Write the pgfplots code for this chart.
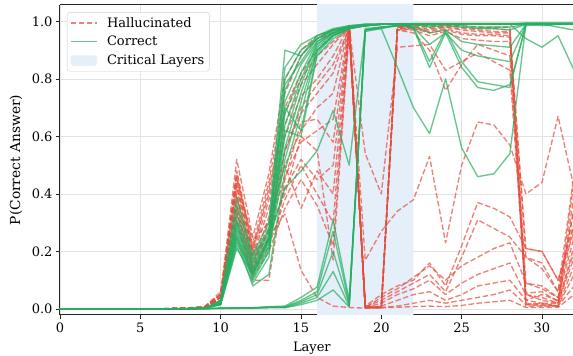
\documentclass[border=0pt]{standalone}
\usepackage{pgfplots}
\pgfplotsset{compat=1.18}
\usepackage{pgfplotstable}
\usepackage{fontspec}
\setmainfont{DejaVu Serif}

\definecolor{hred}{HTML}{E74C3C}
\definecolor{cgreen}{HTML}{27AE60}
\definecolor{critblue}{RGB}{228,239,250}

% one row per hallucinated sample (first row = layer index)
\pgfplotstableread[header=false]{
0 1 2 3 4 5 6 7 8 9 10 11 12 13 14 15 16 17 18 19 20 21 22 23 24 25 26 27 28 29 30 31 32
0 0 0 0 0 0 0 0.002 0.004 0.008 0.05 0.52 0.25 0.47 0.80 0.90 0.95 0.97 0.98 0.004 0.004 0.98 0.985 0.98 0.985 0.98 0.975 0.975 0.97 0.01 0.01 0.01 0.40
0 0 0 0 0 0 0 0.001 0.003 0.006 0.04 0.48 0.22 0.44 0.75 0.88 0.94 0.96 0.98 0.006 0.005 0.975 0.98 0.97 0.98 0.97 0.965 0.96 0.96 0.015 0.02 0.02 0.45
0 0 0 0 0 0 0 0.001 0.002 0.005 0.05 0.46 0.21 0.40 0.70 0.82 0.90 0.95 0.985 0.005 0.006 0.97 0.975 0.96 0.97 0.955 0.95 0.95 0.945 0.03 0.05 0.03 0.30
0 0 0 0 0 0 0 0 0.002 0.004 0.04 0.44 0.19 0.38 0.64 0.78 0.85 0.92 0.98 0.008 0.004 0.97 0.97 0.95 0.965 0.94 0.935 0.93 0.93 0.055 0.06 0.025 0.20
0 0 0 0 0 0 0 0.002 0.003 0.007 0.06 0.42 0.18 0.35 0.60 0.74 0.80 0.88 0.985 0.004 0.007 0.98 0.98 0.975 0.98 0.975 0.97 0.965 0.965 0.09 0.08 0.04 0.35
0 0 0 0 0 0 0 0.001 0.002 0.005 0.04 0.40 0.16 0.32 0.55 0.68 0.75 0.82 0.98 0.006 0.005 0.975 0.975 0.965 0.975 0.96 0.955 0.955 0.95 0.21 0.20 0.10 0.27
0 0 0 0 0 0 0 0 0.001 0.004 0.03 0.38 0.15 0.30 0.50 0.62 0.70 0.75 0.985 0.005 0.004 0.98 0.985 0.985 0.985 0.985 0.98 0.98 0.98 0.18 0.14 0.06 0.47
0 0 0 0 0 0 0 0.001 0.003 0.006 0.05 0.47 0.20 0.42 0.68 0.80 0.88 0.93 0.975 0.01 0.008 0.97 0.96 0.90 0.76 0.85 0.92 0.90 0.88 0.02 0.015 0.012 0.15
0 0 0 0 0 0 0 0.001 0.002 0.005 0.04 0.36 0.14 0.28 0.46 0.58 0.62 0.66 0.98 0.54 0.40 0.91 0.915 0.92 0.83 0.86 0.89 0.86 0.83 0.05 0.03 0.02 0.22
0 0 0 0 0 0 0 0.002 0.004 0.008 0.05 0.34 0.13 0.25 0.42 0.52 0.45 0.50 0.98 0.17 0.27 0.34 0.38 0.53 0.23 0.50 0.65 0.64 0.57 0.40 0.44 0.67 0.42
0 0 0 0 0 0 0 0.001 0.002 0.006 0.04 0.33 0.12 0.22 0.38 0.50 0.40 0.30 0.98 0.01 0.05 0.08 0.10 0.16 0.08 0.22 0.37 0.35 0.32 0.21 0.20 0.10 0.30
0 0 0 0 0 0 0 0 0.002 0.004 0.03 0.31 0.11 0.20 0.35 0.45 0.36 0.22 0.975 0.008 0.03 0.06 0.09 0.12 0.06 0.18 0.31 0.28 0.25 0.18 0.16 0.06 0.35
0 0 0 0 0 0 0 0.002 0.003 0.007 0.05 0.45 0.24 0.30 0.50 0.35 0.48 0.40 0.98 0.005 0.04 0.07 0.11 0.15 0.10 0.15 0.18 0.21 0.23 0.09 0.07 0.04 0.25
0 0 0 0 0 0 0 0.001 0.002 0.005 0.04 0.39 0.17 0.27 0.40 0.60 0.55 0.17 0.97 0.006 0.02 0.05 0.07 0.10 0.05 0.09 0.12 0.14 0.16 0.05 0.04 0.02 0.18
0 0 0 0 0 0 0 0 0.001 0.004 0.03 0.30 0.10 0.10 0.45 0.65 0.66 0.58 0.98 0.004 0.01 0.03 0.05 0.06 0.03 0.05 0.08 0.09 0.10 0.03 0.02 0.01 0.12
0 0 0 0 0 0 0 0.001 0.003 0.006 0.05 0.43 0.20 0.24 0.55 0.70 0.78 0.85 0.975 0.003 0.005 0.01 0.02 0.03 0.02 0.03 0.04 0.05 0.066 0.015 0.012 0.01 0.08
0 0 0 0 0 0 0 0.001 0.002 0.005 0.04 0.35 0.14 0.25 0.33 0.135 0.04 0.01 0.005 0.003 0.004 0.006 0.008 0.01 0.008 0.012 0.02 0.025 0.03 0.005 0.005 0.005 0.05
}\halraw
\pgfplotstabletranspose\haltab{\halraw}

% one row per correct sample (first row = layer index)
\pgfplotstableread[header=false]{
0 1 2 3 4 5 6 7 8 9 10 11 12 13 14 15 16 17 18 19 20 21 22 23 24 25 26 27 28 29 30 31 32
0 0 0 0 0 0 0 0 0.001 0.003 0.03 0.39 0.19 0.30 0.90 0.88 0.95 0.97 0.98 0.99 0.99 0.992 0.993 0.993 0.993 0.993 0.993 0.993 0.993 0.993 0.993 0.993 0.993
0 0 0 0 0 0 0 0 0.001 0.003 0.03 0.36 0.18 0.28 0.84 0.92 0.95 0.975 0.985 0.99 0.99 0.99 0.985 0.96 0.97 0.93 0.92 0.915 0.91 0.99 0.99 0.99 0.99
0 0 0 0 0 0 0 0 0.001 0.003 0.025 0.33 0.17 0.27 0.80 0.90 0.94 0.97 0.98 0.985 0.99 0.99 0.98 0.92 0.96 0.90 0.88 0.87 0.86 0.99 0.99 0.99 0.99
0 0 0 0 0 0 0 0 0.001 0.003 0.025 0.31 0.16 0.26 0.76 0.88 0.94 0.97 0.985 0.99 0.99 0.99 0.98 0.86 0.97 0.86 0.79 0.78 0.77 0.99 0.99 0.99 0.99
0 0 0 0 0 0 0 0 0.001 0.003 0.02 0.30 0.15 0.25 0.72 0.85 0.93 0.965 0.98 0.985 0.99 0.99 0.975 0.84 0.96 0.84 0.77 0.76 0.78 0.985 0.99 0.99 0.99
0 0 0 0 0 0 0 0 0.001 0.003 0.02 0.29 0.14 0.24 0.68 0.82 0.93 0.96 0.98 0.985 0.99 0.99 0.99 0.99 0.99 0.99 0.99 0.99 0.99 0.94 0.91 0.95 0.83
0 0 0 0 0 0 0 0 0.001 0.003 0.02 0.28 0.13 0.23 0.64 0.80 0.92 0.96 0.98 0.985 0.99 0.99 0.99 0.985 0.99 0.985 0.98 0.98 0.98 0.99 0.99 0.99 0.99
0 0 0 0 0 0 0 0 0.001 0.003 0.02 0.27 0.12 0.22 0.60 0.78 0.92 0.96 0.98 0.985 0.99 0.99 0.99 0.99 0.99 0.99 0.99 0.99 0.99 0.995 0.995 0.995 0.995
0 0 0 0 0 0 0 0 0.001 0.003 0.018 0.26 0.11 0.21 0.56 0.75 0.91 0.955 0.975 0.985 0.99 0.99 0.99 0.98 0.985 0.98 0.975 0.975 0.97 0.99 0.985 0.99 0.99
0 0 0 0 0 0 0 0 0.001 0.003 0.018 0.25 0.10 0.20 0.52 0.72 0.90 0.95 0.975 0.985 0.99 0.99 0.99 0.99 0.99 0.99 0.99 0.99 0.99 0.99 0.99 0.98 0.97
0 0 0 0 0 0 0 0 0.001 0.003 0.015 0.24 0.08 0.12 0.48 0.68 0.90 0.95 0.975 0.985 0.99 0.99 0.99 0.99 0.99 0.99 0.99 0.99 0.99 0.99 0.99 0.99 0.99
0 0 0 0 0 0 0 0 0.001 0.003 0.015 0.22 0.09 0.18 0.70 0.62 0.89 0.95 0.975 0.985 0.99 0.99 0.99 0.99 0.99 0.99 0.99 0.99 0.99 0.99 0.99 0.99 0.99
0 0 0 0 0 0 0 0 0.001 0.003 0.015 0.21 0.12 0.25 0.78 0.86 0.94 0.97 0.98 0.99 0.99 0.99 0.99 0.99 0.99 0.99 0.99 0.99 0.99 0.99 0.99 0.99 0.99
0 0 0 0 0 0 0 0 0.001 0.003 0.02 0.23 0.13 0.24 0.62 0.60 0.88 0.94 0.975 0.985 0.99 0.99 0.99 0.99 0.99 0.99 0.99 0.99 0.99 0.99 0.99 0.99 0.99
0 0 0 0 0 0 0 0 0 0.001 0.003 0.004 0.004 0.008 0.01 0.04 0.076 0.31 0.03 0.97 0.98 0.985 0.99 0.99 0.99 0.99 0.99 0.99 0.99 0.99 0.99 0.99 0.99
0 0 0 0 0 0 0 0 0 0.001 0.003 0.004 0.004 0.007 0.008 0.03 0.06 0.27 0.02 0.97 0.98 0.985 0.99 0.99 0.99 0.99 0.99 0.99 0.99 0.99 0.99 0.99 0.99
0 0 0 0 0 0 0 0 0 0.001 0.002 0.003 0.003 0.006 0.006 0.025 0.05 0.20 0.015 0.965 0.975 0.985 0.99 0.99 0.99 0.99 0.99 0.99 0.99 0.99 0.99 0.99 0.99
0 0 0 0 0 0 0 0 0 0.001 0.002 0.003 0.003 0.005 0.005 0.02 0.04 0.13 0.01 0.97 0.98 0.985 0.99 0.99 0.99 0.99 0.99 0.99 0.99 0.99 0.99 0.99 0.99
0 0 0 0 0 0 0 0 0 0.001 0.002 0.002 0.003 0.004 0.004 0.015 0.03 0.066 0.007 0.975 0.98 0.985 0.99 0.99 0.99 0.99 0.99 0.99 0.99 0.99 0.99 0.99 0.99
0 0 0 0 0 0 0 0 0 0.001 0.02 0.25 0.12 0.24 0.42 0.48 0.55 0.69 0.50 0.97 0.975 0.84 0.70 0.61 0.80 0.56 0.46 0.47 0.54 0.99 0.99 0.99 0.99
}\corraw
\pgfplotstabletranspose\cortab{\corraw}

\pgfplotsset{
  hal/.style={color=hred, draw opacity=0.7, line width=1.35pt, dash pattern=on 5.5pt off 2.5pt, line join=round},
  cor/.style={color=cgreen, draw opacity=0.7, line width=1.35pt, line join=round},
}

\begin{document}
\begin{tikzpicture}
\begin{axis}[
  scale only axis, width=513pt, height=310pt,
  xmin=0, xmax=31.93, ymin=-0.021, ymax=1.057,
  xtick={0,5,10,15,20,25,30},
  ytick={0,0.2,0.4,0.6,0.8,1.0},
  /pgf/number format/assume math mode=true,
  yticklabel style={/pgf/number format/.cd, fixed, fixed zerofill, precision=1},
  grid=major, major grid style={black!11, line width=0.8pt},
  axis x line*=box, axis y line*=left,
  axis line style={-, black!85, line width=1pt},
  tick align=outside, major tick length=4pt, tick style={black!85, line width=0.8pt},
  xtick pos=left, ytick pos=left,
  tick label style={font=\fontsize{13}{15}\selectfont},
  xlabel style={font=\fontsize{13}{15}\selectfont},
  ylabel style={font=\fontsize{13.8}{16}\selectfont},
  xlabel={Layer}, ylabel={P(Correct Answer)},
  xlabel style={at={(axis description cs:0.491,0)}, anchor=center, yshift=-33pt},
  ylabel style={at={(axis description cs:-0.0858,0.5)}, anchor=center},
  legend cell align=left,
  legend style={at={(axis description cs:0.0136,0.977)}, anchor=north west,
    draw=black!20, rounded corners=2.5pt, fill=white,
    font=\fontsize{13}{15.5}\selectfont, inner xsep=3pt, inner ysep=3pt,
    row sep=3.5pt,
    /tikz/every odd column/.append style={column sep=7.5pt}},
  legend image code/.code={\draw[#1] (0pt,0pt) -- (26pt,0pt);},
]
\coordinate (bl) at (rel axis cs:0,0);
\coordinate (tr) at (rel axis cs:1,1);
\addplot[draw=none, fill=critblue, forget plot] coordinates {(16,-0.5) (22,-0.5) (22,1.5) (16,1.5) (16,-0.5)};
\pgfplotsinvokeforeach{2,...,18}{\addplot[hal, forget plot] table[x index=1, y index=#1] {\haltab};}
\pgfplotsinvokeforeach{2,...,21}{\addplot[cor, forget plot] table[x index=1, y index=#1] {\cortab};}
\addlegendimage{hal}
\addlegendentry{Hallucinated}
\addlegendimage{cor}
\addlegendentry{Correct}
\addlegendimage{legend image code/.code={\fill[critblue] (0pt,-5pt) rectangle (26pt,5pt);}}
\addlegendentry{Critical Layers}
\end{axis}
\pgfresetboundingbox
\path[use as bounding box] ([xshift=-60pt,yshift=-41pt]bl) rectangle ([yshift=5pt]tr);
\end{tikzpicture}
\end{document}
